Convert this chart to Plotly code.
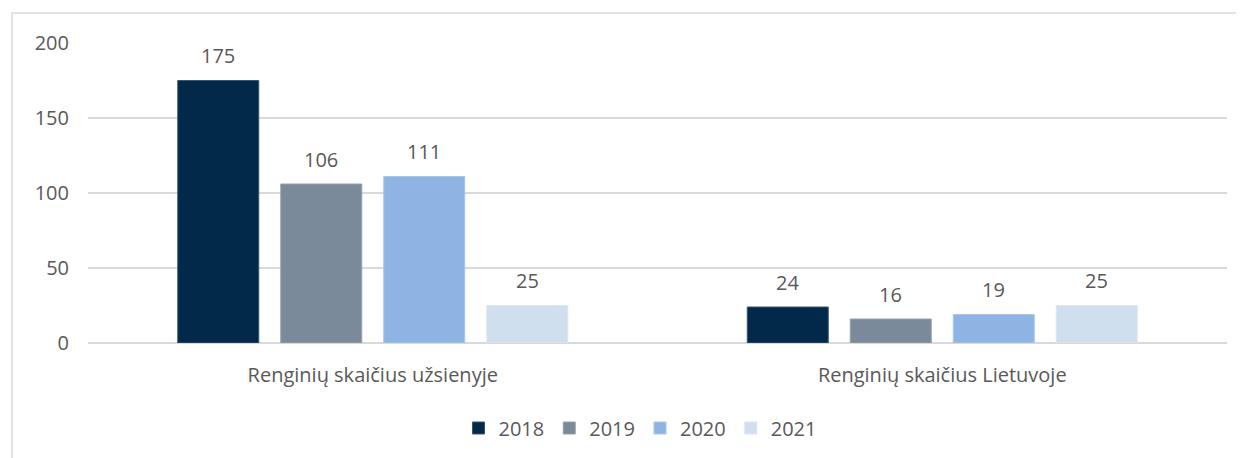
import plotly.graph_objects as go

categories = ["Renginių skaičius užsienyje", "Renginių skaičius Lietuvoje"]
years = ["2018", "2019", "2020", "2021"]
values_2018 = [175, 24]
values_2019 = [106, 16]
values_2020 = [111, 19]
values_2021 = [25, 25]
series = [values_2018, values_2019, values_2020, values_2021]
colors = ["#02284A", "#7A8A9A", "#8DB4E2", "#D0DFEE"]
edge_colors = ["#3A5570", "#95A2AF", "#A9C6EA", "#DCE7F3"]

FONT = "Open Sans, Liberation Sans, sans-serif"
GRAY = "#595959"
FS = 20
BARGAP = 0.2766
BARGROUPGAP = 0.2136

# page offset (body margin) of 8px
OFF = 8
W, H = 1244, 458
plot_left, plot_right, plot_top, plot_bottom = 88, 1227, 43, 343
L = plot_left - OFF
T = plot_top - OFF
R = W - (plot_right - OFF)
B = H - (plot_bottom - OFF)
pw = W - L - R
ph = H - T - B

def px_x(sx):
    return (sx - OFF - L) / pw

def px_y(sy):
    return (T + ph - (sy - OFF)) / ph

fig = go.Figure()
annotations = []
n = len(series)
group_w = 1 - BARGAP
slot = group_w / n
for i, (name, vals, c, ec) in enumerate(zip(years, series, colors, edge_colors)):
    fig.add_trace(go.Bar(
        x=categories, y=vals, name=name,
        marker=dict(color=c, line=dict(color=ec, width=1)),
    ))
    offset = -group_w / 2 + slot * (i + 0.5)
    for ci, v in enumerate(vals):
        annotations.append(dict(
            xref="x", yref="y", x=ci + offset, y=v, text=str(v),
            showarrow=False, yshift=25, yanchor="middle",
            font=dict(color=GRAY, size=FS, family=FONT)))

fig.update_layout(
    width=W, height=H,
    margin=dict(l=L, r=R, t=T, b=B),
    paper_bgcolor="white", plot_bgcolor="white",
    barmode="group", bargap=BARGAP, bargroupgap=BARGROUPGAP,
    font=dict(family=FONT, color=GRAY, size=FS),
    showlegend=True,
    legend=dict(orientation="h", x=px_x(640), xanchor="center",
                y=px_y(428), yanchor="middle",
                font=dict(size=FS, color=GRAY, family=FONT),
                itemwidth=30, traceorder="normal"),
    xaxis=dict(showgrid=False, showline=False, ticks="",
               ticklabelstandoff=18,
               tickfont=dict(size=FS, color=GRAY, family=FONT)),
    yaxis=dict(range=[0, 200], tickvals=[0, 50, 100, 150, 200],
               showgrid=True, gridcolor="#D9D9D9", gridwidth=1.5,
               zeroline=True, zerolinecolor="#D9D9D9", zerolinewidth=1.5,
               showline=False, ticks="", ticklabelstandoff=18,
               tickfont=dict(size=FS, color=GRAY, family=FONT)),
    annotations=annotations,
    shapes=[dict(type="rect", xref="paper", yref="paper",
                 x0=px_x(12), x1=px_x(W + 20),
                 y0=px_y(H + 20), y1=px_y(13),
                 line=dict(color="#D9D9D9", width=1.5),
                 fillcolor="rgba(0,0,0,0)", layer="below")],
)

fig.write_html("out.html")
